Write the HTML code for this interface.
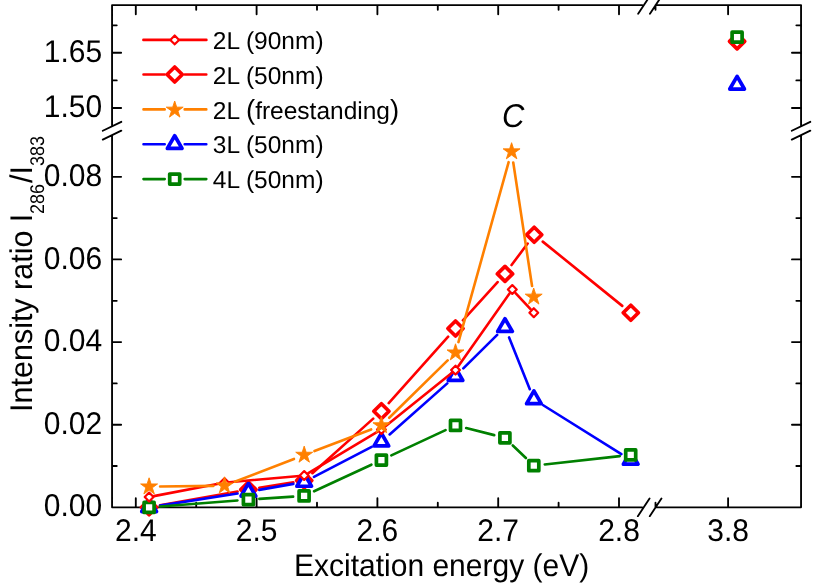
<!DOCTYPE html>
<html><head><meta charset="utf-8"><title>chart</title>
<style>
html,body{margin:0;padding:0;background:#fff;}
svg{display:block;will-change:transform;font-family:'Liberation Sans', sans-serif;}
text{fill:#000;text-rendering:geometricPrecision;}
</style></head>
<body>
<svg width="830" height="588" viewBox="0 0 830 588">
<rect width="830" height="588" fill="#fff"/>
<g id="axes">
<path d="M112.05 5.1V125.6M112.05 135.4V507.35M801.05 5.1V125.6M801.05 135.4V507.35M112.05 5.1H642.2M656.6 5.1H801.05M112.05 507.35H642.2M656.2 507.35H801.05M135.8 5.1v9.1M135.8 507.35v-9.1M256.6 5.1v9.1M256.6 507.35v-9.1M377.4 5.1v9.1M377.4 507.35v-9.1M498.2 5.1v9.1M498.2 507.35v-9.1M619.0 5.1v9.1M619.0 507.35v-9.1M728.1 5.1v9.1M728.1 507.35v-9.1M196.2 5.1v4.7M196.2 507.35v-4.7M317.0 5.1v4.7M317.0 507.35v-4.7M437.8 5.1v4.7M437.8 507.35v-4.7M558.6 5.1v4.7M558.6 507.35v-4.7M655.5 5.1v4.7M655.5 507.35v-4.7M112.05 52.7h9.1M801.05 52.7h-9.1M112.05 108.0h9.1M801.05 108.0h-9.1M112.05 176.8h9.1M801.05 176.8h-9.1M112.05 259.4h9.1M801.05 259.4h-9.1M112.05 342.1h9.1M801.05 342.1h-9.1M112.05 424.7h9.1M801.05 424.7h-9.1M112.05 25.3h4.7M801.05 25.3h-4.7M112.05 80.4h4.7M801.05 80.4h-4.7M112.05 218.1h4.7M801.05 218.1h-4.7M112.05 300.8h4.7M801.05 300.8h-4.7M112.05 383.4h4.7M801.05 383.4h-4.7M112.05 466.0h4.7M801.05 466.0h-4.7M102.8 130.78L121.3 121.82M102.8 139.57999999999998L121.3 130.62M791.8 130.78L810.3 121.82M791.8 139.57999999999998L810.3 130.62M638.15 13.7L649.85 -3.9000000000000012M649.9499999999999 13.7L661.65 -3.9000000000000012M637.85 516.15L649.5500000000001 498.55M649.75 516.15L661.45 498.55" stroke="#000" stroke-width="1.85" fill="none" stroke-linecap="round"/>
</g>
<g id="data">
<path d="M159.93 505.37L237.57 491.53M259.26 487.83L293.34 482.27M312.39 473.16L373.21 418.64M388.74 403.10L448.16 336.70M462.89 320.35L497.61 282.05M511.57 265.08L527.63 243.52M542.75 241.62L622.25 305.88" stroke="#ff0000" stroke-width="2.6" fill="none" stroke-linecap="round"/>
<path d="M149.10 499.80L156.70 507.30L149.10 514.80L141.50 507.30Z" fill="#fff" stroke="#ff0000" stroke-width="3.7" stroke-linejoin="round"/>
<path d="M248.40 482.10L256.00 489.60L248.40 497.10L240.80 489.60Z" fill="#fff" stroke="#ff0000" stroke-width="3.7" stroke-linejoin="round"/>
<path d="M304.20 473.00L311.80 480.50L304.20 488.00L296.60 480.50Z" fill="#fff" stroke="#ff0000" stroke-width="3.7" stroke-linejoin="round"/>
<path d="M381.40 403.80L389.00 411.30L381.40 418.80L373.80 411.30Z" fill="#fff" stroke="#ff0000" stroke-width="3.7" stroke-linejoin="round"/>
<path d="M455.50 321.00L463.10 328.50L455.50 336.00L447.90 328.50Z" fill="#fff" stroke="#ff0000" stroke-width="3.7" stroke-linejoin="round"/>
<path d="M505.00 266.40L512.60 273.90L505.00 281.40L497.40 273.90Z" fill="#fff" stroke="#ff0000" stroke-width="3.7" stroke-linejoin="round"/>
<path d="M534.20 227.20L541.80 234.70L534.20 242.20L526.60 234.70Z" fill="#fff" stroke="#ff0000" stroke-width="3.7" stroke-linejoin="round"/>
<path d="M630.80 305.30L638.40 312.80L630.80 320.30L623.20 312.80Z" fill="#fff" stroke="#ff0000" stroke-width="3.7" stroke-linejoin="round"/>
<path d="M737.10 33.90L744.70 41.40L737.10 48.90L729.50 41.40Z" fill="#fff" stroke="#ff0000" stroke-width="3.7" stroke-linejoin="round"/>
<path d="M159.97 505.60L237.53 493.50M259.23 489.90L293.37 483.90M313.95 476.91L371.65 446.79M389.64 434.41L447.26 383.39M463.33 368.37L497.17 334.93M509.09 337.41L529.81 389.19M543.23 405.23L621.37 454.07" stroke="#0000ff" stroke-width="2.6" fill="none" stroke-linecap="round"/>
<path d="M149.10 498.85L156.42 511.53L141.78 511.53Z" fill="#fff" stroke="#0000ff" stroke-width="3.7" stroke-linejoin="round"/>
<path d="M248.40 483.35L255.72 496.03L241.08 496.03Z" fill="#fff" stroke="#0000ff" stroke-width="3.7" stroke-linejoin="round"/>
<path d="M304.20 473.55L311.52 486.23L296.88 486.23Z" fill="#fff" stroke="#0000ff" stroke-width="3.7" stroke-linejoin="round"/>
<path d="M381.40 433.25L388.72 445.93L374.08 445.93Z" fill="#fff" stroke="#0000ff" stroke-width="3.7" stroke-linejoin="round"/>
<path d="M455.50 367.65L462.82 380.33L448.18 380.33Z" fill="#fff" stroke="#0000ff" stroke-width="3.7" stroke-linejoin="round"/>
<path d="M505.00 318.75L512.32 331.43L497.68 331.43Z" fill="#fff" stroke="#0000ff" stroke-width="3.7" stroke-linejoin="round"/>
<path d="M533.90 390.95L541.22 403.63L526.58 403.63Z" fill="#fff" stroke="#0000ff" stroke-width="3.7" stroke-linejoin="round"/>
<path d="M630.70 451.45L638.02 464.13L623.38 464.13Z" fill="#fff" stroke="#0000ff" stroke-width="3.7" stroke-linejoin="round"/>
<path d="M737.10 76.35L744.42 89.03L729.78 89.03Z" fill="#fff" stroke="#0000ff" stroke-width="3.7" stroke-linejoin="round"/>
<path d="M160.07 506.54L237.43 500.46M259.38 498.87L293.12 496.63M314.08 491.28L371.42 464.72M391.36 455.44L445.54 430.06M466.17 428.08L494.23 435.12M512.81 445.44L525.89 458.06M544.73 464.48L619.77 456.12" stroke="#008000" stroke-width="2.6" fill="none" stroke-linecap="round"/>
<rect x="144.10" y="502.40" width="10.00" height="10.00" fill="#fff" stroke="#008000" stroke-width="3.7" stroke-linejoin="round"/>
<rect x="243.40" y="494.60" width="10.00" height="10.00" fill="#fff" stroke="#008000" stroke-width="3.7" stroke-linejoin="round"/>
<rect x="299.10" y="490.90" width="10.00" height="10.00" fill="#fff" stroke="#008000" stroke-width="3.7" stroke-linejoin="round"/>
<rect x="376.40" y="455.10" width="10.00" height="10.00" fill="#fff" stroke="#008000" stroke-width="3.7" stroke-linejoin="round"/>
<rect x="450.50" y="420.40" width="10.00" height="10.00" fill="#fff" stroke="#008000" stroke-width="3.7" stroke-linejoin="round"/>
<rect x="499.90" y="432.80" width="10.00" height="10.00" fill="#fff" stroke="#008000" stroke-width="3.7" stroke-linejoin="round"/>
<rect x="528.80" y="460.70" width="10.00" height="10.00" fill="#fff" stroke="#008000" stroke-width="3.7" stroke-linejoin="round"/>
<rect x="625.70" y="449.90" width="10.00" height="10.00" fill="#fff" stroke="#008000" stroke-width="3.7" stroke-linejoin="round"/>
<rect x="732.10" y="32.20" width="10.00" height="10.00" fill="#fff" stroke="#008000" stroke-width="3.7" stroke-linejoin="round"/>
<path d="M153.81 496.10L219.79 483.50M229.28 482.17L299.42 475.93M308.32 473.04L377.28 431.96M385.15 426.50L451.75 373.10M458.27 366.18L509.53 293.42M515.56 293.02L530.54 309.18" stroke="#ff0000" stroke-width="2.6" fill="none" stroke-linecap="round"/>
<path d="M149.10 492.55L153.50 497.00L149.10 501.45L144.70 497.00Z" fill="#fff" stroke="#ff0000" stroke-width="2.2" stroke-linejoin="round"/>
<path d="M224.50 478.15L228.90 482.60L224.50 487.05L220.10 482.60Z" fill="#fff" stroke="#ff0000" stroke-width="2.2" stroke-linejoin="round"/>
<path d="M304.20 471.05L308.60 475.50L304.20 479.95L299.80 475.50Z" fill="#fff" stroke="#ff0000" stroke-width="2.2" stroke-linejoin="round"/>
<path d="M381.40 425.05L385.80 429.50L381.40 433.95L377.00 429.50Z" fill="#fff" stroke="#ff0000" stroke-width="2.2" stroke-linejoin="round"/>
<path d="M455.50 365.65L459.90 370.10L455.50 374.55L451.10 370.10Z" fill="#fff" stroke="#ff0000" stroke-width="2.2" stroke-linejoin="round"/>
<path d="M512.30 285.05L516.70 289.50L512.30 293.95L507.90 289.50Z" fill="#fff" stroke="#ff0000" stroke-width="2.2" stroke-linejoin="round"/>
<path d="M533.80 308.25L538.20 312.70L533.80 317.15L529.40 312.70Z" fill="#fff" stroke="#ff0000" stroke-width="2.2" stroke-linejoin="round"/>
<path d="M160.10 486.55L213.50 485.85M234.76 481.75L293.94 458.95M314.48 451.07L371.12 429.43M389.25 417.79L447.65 360.41M458.46 342.10L508.64 162.20M513.25 162.47L532.05 286.03" stroke="#ff8000" stroke-width="2.6" fill="none" stroke-linecap="round"/>
<path d="M149.10 477.80L151.10 483.95L157.56 483.95L152.33 487.75L154.33 493.90L149.10 490.10L143.87 493.90L145.87 487.75L140.64 483.95L147.10 483.95Z" fill="#ff8000" stroke="#ff8000" stroke-width="0.9" stroke-linejoin="round"/>
<path d="M224.50 476.80L226.50 482.95L232.96 482.95L227.73 486.75L229.73 492.90L224.50 489.10L219.27 492.90L221.27 486.75L216.04 482.95L222.50 482.95Z" fill="#ff8000" stroke="#ff8000" stroke-width="0.9" stroke-linejoin="round"/>
<path d="M304.20 446.10L306.20 452.25L312.66 452.25L307.43 456.05L309.43 462.20L304.20 458.40L298.97 462.20L300.97 456.05L295.74 452.25L302.20 452.25Z" fill="#ff8000" stroke="#ff8000" stroke-width="0.9" stroke-linejoin="round"/>
<path d="M381.40 416.60L383.40 422.75L389.86 422.75L384.63 426.55L386.63 432.70L381.40 428.90L376.17 432.70L378.17 426.55L372.94 422.75L379.40 422.75Z" fill="#ff8000" stroke="#ff8000" stroke-width="0.9" stroke-linejoin="round"/>
<path d="M455.50 343.80L457.50 349.95L463.96 349.95L458.73 353.75L460.73 359.90L455.50 356.10L450.27 359.90L452.27 353.75L447.04 349.95L453.50 349.95Z" fill="#ff8000" stroke="#ff8000" stroke-width="0.9" stroke-linejoin="round"/>
<path d="M511.60 142.70L513.60 148.85L520.06 148.85L514.83 152.65L516.83 158.80L511.60 155.00L506.37 158.80L508.37 152.65L503.14 148.85L509.60 148.85Z" fill="#ff8000" stroke="#ff8000" stroke-width="0.9" stroke-linejoin="round"/>
<path d="M533.70 288.00L535.70 294.15L542.16 294.15L536.93 297.95L538.93 304.10L533.70 300.30L528.47 304.10L530.47 297.95L525.24 294.15L531.70 294.15Z" fill="#ff8000" stroke="#ff8000" stroke-width="0.9" stroke-linejoin="round"/>
</g>
<g id="labels">
<text transform="translate(135.8 540.7) scale(1.0 1.045)" font-size="30" text-anchor="middle">2.4</text>
<text transform="translate(256.6 540.7) scale(1.0 1.045)" font-size="30" text-anchor="middle">2.5</text>
<text transform="translate(377.4 540.7) scale(1.0 1.045)" font-size="30" text-anchor="middle">2.6</text>
<text transform="translate(498.2 540.7) scale(1.0 1.045)" font-size="30" text-anchor="middle">2.7</text>
<text transform="translate(619.0 540.7) scale(1.0 1.045)" font-size="30" text-anchor="middle">2.8</text>
<text transform="translate(728.1 540.7) scale(1.0 1.045)" font-size="30" text-anchor="middle">3.8</text>
<text transform="translate(102.2 61.8) scale(1.0 1.045)" font-size="30" text-anchor="end">1.65</text>
<text transform="translate(102.2 117.1) scale(1.0 1.045)" font-size="30" text-anchor="end">1.50</text>
<text transform="translate(102.2 185.9) scale(1.0 1.045)" font-size="30" text-anchor="end">0.08</text>
<text transform="translate(102.2 268.5) scale(1.0 1.045)" font-size="30" text-anchor="end">0.06</text>
<text transform="translate(102.2 351.2) scale(1.0 1.045)" font-size="30" text-anchor="end">0.04</text>
<text transform="translate(102.2 433.8) scale(1.0 1.045)" font-size="30" text-anchor="end">0.02</text>
<text transform="translate(102.2 516.4) scale(1.0 1.045)" font-size="30" text-anchor="end">0.00</text>
<text transform="translate(294.0 576.1) scale(1.0 1.045)" font-size="30" text-anchor="start">Excitation energy (eV)</text>
<text transform="translate(31.8 411.9) rotate(-90) scale(1.016 1.045)" font-size="30" text-anchor="start">Intensity ratio I</text>
<text transform="translate(43.6 214.0) rotate(-90) scale(1.0 1.1)" font-size="18" text-anchor="start">286</text>
<text transform="translate(31.8 166.0) rotate(-90) scale(1.016 1.045)" font-size="30" text-anchor="end">/I</text>
<text transform="translate(43.6 165.9) rotate(-90) scale(1.0 1.1)" font-size="18" text-anchor="start">383</text>
<text transform="translate(502.0 126.6) scale(1.0 1.06)" font-size="31" text-anchor="start" font-style="italic">C</text>
</g>
<g id="legend">
<path d="M143.4 39.9H169.7M179.7 39.9H206.4" stroke="#ff0000" stroke-width="2.6" fill="none" stroke-linecap="round"/>
<path d="M174.70 35.45L179.10 39.90L174.70 44.35L170.30 39.90Z" fill="#fff" stroke="#ff0000" stroke-width="2.2" stroke-linejoin="round"/>
<text transform="translate(212.8 49.1) scale(1.0 1.0)" font-size="24.5" text-anchor="start">2L (90nm)</text>
<path d="M143.5 74.5H164.7M184.7 74.5H206.3" stroke="#ff0000" stroke-width="2.6" fill="none" stroke-linecap="round"/>
<path d="M174.70 67.00L182.30 74.50L174.70 82.00L167.10 74.50Z" fill="#fff" stroke="#ff0000" stroke-width="3.7" stroke-linejoin="round"/>
<text transform="translate(212.8 83.7) scale(1.0 1.0)" font-size="24.5" text-anchor="start">2L (50nm)</text>
<path d="M143.5 109.4H164.7M184.7 109.4H206.3" stroke="#ff8000" stroke-width="2.6" fill="none" stroke-linecap="round"/>
<path d="M174.70 101.00L176.70 107.15L183.16 107.15L177.93 110.95L179.93 117.10L174.70 113.30L169.47 117.10L171.47 110.95L166.24 107.15L172.70 107.15Z" fill="#ff8000" stroke="#ff8000" stroke-width="0.9" stroke-linejoin="round"/>
<text transform="translate(212.8 118.6) scale(1.0 1.0)" font-size="24.5" text-anchor="start">2L <tspan font-size="27.5">(</tspan>freestanding<tspan font-size="27.5">)</tspan></text>
<path d="M143.5 144.2H164.7M184.7 144.2H206.3" stroke="#0000ff" stroke-width="2.6" fill="none" stroke-linecap="round"/>
<path d="M174.70 135.75L182.02 148.43L167.38 148.43Z" fill="#fff" stroke="#0000ff" stroke-width="3.7" stroke-linejoin="round"/>
<text transform="translate(212.8 153.4) scale(1.0 1.0)" font-size="24.5" text-anchor="start">3L (50nm)</text>
<path d="M143.5 179.1H164.7M184.7 179.1H206.3" stroke="#008000" stroke-width="2.6" fill="none" stroke-linecap="round"/>
<rect x="169.70" y="174.10" width="10.00" height="10.00" fill="#fff" stroke="#008000" stroke-width="3.7" stroke-linejoin="round"/>
<text transform="translate(212.8 188.3) scale(1.0 1.0)" font-size="24.5" text-anchor="start">4L (50nm)</text>
</g>
</svg>
</body></html>
